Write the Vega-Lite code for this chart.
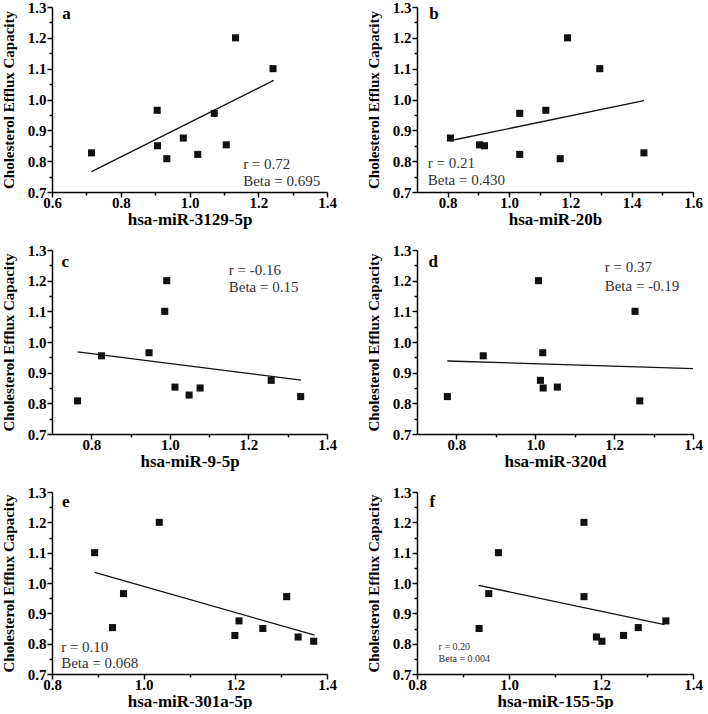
{
"$schema": "https://vega.github.io/schema/vega-lite/v6.json",
"padding": {"left": 1, "top": 0, "right": 0, "bottom": 0},
"background": "white",
"datasets": {
"points": [
{"panel":"a","expr":0.715,"cec":0.827},{"panel":"a","expr":0.906,"cec":0.965},{"panel":"a","expr":0.907,"cec":0.850},{"panel":"a","expr":0.934,"cec":0.808},{"panel":"a","expr":0.982,"cec":0.875},{"panel":"a","expr":1.024,"cec":0.822},{"panel":"a","expr":1.072,"cec":0.955},{"panel":"a","expr":1.107,"cec":0.853},{"panel":"a","expr":1.134,"cec":1.200},{"panel":"a","expr":1.243,"cec":1.100},
{"panel":"b","expr":0.809,"cec":0.875},{"panel":"b","expr":0.904,"cec":0.853},{"panel":"b","expr":0.920,"cec":0.850},{"panel":"b","expr":1.035,"cec":0.955},{"panel":"b","expr":1.035,"cec":0.822},{"panel":"b","expr":1.120,"cec":0.965},{"panel":"b","expr":1.167,"cec":0.808},{"panel":"b","expr":1.191,"cec":1.200},{"panel":"b","expr":1.296,"cec":1.100},{"panel":"b","expr":1.440,"cec":0.827},
{"panel":"c","expr":0.765,"cec":0.808},{"panel":"c","expr":0.826,"cec":0.955},{"panel":"c","expr":0.947,"cec":0.965},{"panel":"c","expr":0.987,"cec":1.100},{"panel":"c","expr":0.992,"cec":1.200},{"panel":"c","expr":1.013,"cec":0.853},{"panel":"c","expr":1.049,"cec":0.827},{"panel":"c","expr":1.077,"cec":0.850},{"panel":"c","expr":1.258,"cec":0.875},{"panel":"c","expr":1.333,"cec":0.822},
{"panel":"d","expr":0.777,"cec":0.822},{"panel":"d","expr":0.868,"cec":0.955},{"panel":"d","expr":1.008,"cec":1.200},{"panel":"d","expr":1.019,"cec":0.965},{"panel":"d","expr":1.013,"cec":0.875},{"panel":"d","expr":1.020,"cec":0.850},{"panel":"d","expr":1.056,"cec":0.853},{"panel":"d","expr":1.253,"cec":1.100},{"panel":"d","expr":1.265,"cec":0.808},
{"panel":"e","expr":0.893,"cec":1.100},{"panel":"e","expr":0.956,"cec":0.965},{"panel":"e","expr":0.932,"cec":0.853},{"panel":"e","expr":1.034,"cec":1.200},{"panel":"e","expr":1.199,"cec":0.827},{"panel":"e","expr":1.208,"cec":0.875},{"panel":"e","expr":1.260,"cec":0.850},{"panel":"e","expr":1.312,"cec":0.955},{"panel":"e","expr":1.337,"cec":0.822},{"panel":"e","expr":1.371,"cec":0.808},
{"panel":"f","expr":0.935,"cec":0.850},{"panel":"f","expr":0.956,"cec":0.965},{"panel":"f","expr":0.977,"cec":1.100},{"panel":"f","expr":1.163,"cec":1.200},{"panel":"f","expr":1.163,"cec":0.955},{"panel":"f","expr":1.190,"cec":0.822},{"panel":"f","expr":1.202,"cec":0.808},{"panel":"f","expr":1.249,"cec":0.827},{"panel":"f","expr":1.281,"cec":0.853},{"panel":"f","expr":1.341,"cec":0.875}
],
"lines": [
{"panel":"a","expr":0.715,"cec":0.766},{"panel":"a","expr":1.245,"cec":1.062},
{"panel":"b","expr":0.811,"cec":0.867},{"panel":"b","expr":1.440,"cec":0.996},
{"panel":"c","expr":0.765,"cec":0.968},{"panel":"c","expr":1.334,"cec":0.876},
{"panel":"d","expr":0.777,"cec":0.938},{"panel":"d","expr":1.400,"cec":0.913},
{"panel":"e","expr":0.893,"cec":1.035},{"panel":"e","expr":1.373,"cec":0.828},
{"panel":"f","expr":0.934,"cec":0.992},{"panel":"f","expr":1.338,"cec":0.863}
],
"notes": [
{"panel":"a","expr":1.156,"cec":0.791,"label":"r = 0.72"},{"panel":"a","expr":1.156,"cec":0.736,"label":"Beta = 0.695"},
{"panel":"b","expr":0.735,"cec":0.793,"label":"r = 0.21"},{"panel":"b","expr":0.735,"cec":0.739,"label":"Beta = 0.430"},
{"panel":"c","expr":1.150,"cec":1.235,"label":"r = -0.16"},{"panel":"c","expr":1.150,"cec":1.178,"label":"Beta = 0.15"},
{"panel":"d","expr":1.176,"cec":1.243,"label":"r = 0.37"},{"panel":"d","expr":1.176,"cec":1.183,"label":"Beta = -0.19"},
{"panel":"e","expr":0.820,"cec":0.790,"label":"r = 0.10"},{"panel":"e","expr":0.820,"cec":0.736,"label":"Beta = 0.068"},
{"panel":"f","expr":0.847,"cec":0.790,"label":"r = 0.20"},{"panel":"f","expr":0.847,"cec":0.750,"label":"Beta = 0.004"}
],
"letters": [
{"panel":"a","expr":0.630,"cec":1.278,"label":"a"},
{"panel":"b","expr":0.740,"cec":1.278,"label":"b"},
{"panel":"c","expr":0.724,"cec":1.260,"label":"c"},
{"panel":"d","expr":0.729,"cec":1.260,"label":"d"},
{"panel":"e","expr":0.822,"cec":1.267,"label":"e"},
{"panel":"f","expr":0.827,"cec":1.267,"label":"f"}
]
},
"spacing": 16,
"vconcat": [
{"hconcat": [
{"width": 275, "height": 185,
"encoding":{"x":{"field":"expr","type":"quantitative","scale":{"domain":[0.6,1.4],"nice":false,"zero":false},"axis":{"title":"hsa-miR-3129-5p","values":[0.6,0.7,0.8,0.9,1.0,1.1,1.2,1.3,1.4],"labelOverlap":false,"labelExpr":"round(datum.value*10)%2==0 ? format(datum.value,'.1f') : ''","tickSize":{"condition":{"test":"round(datum.value*10)%2==0","value":5},"value":3}}},
"y":{"field":"cec","type":"quantitative","scale":{"domain":[0.7,1.3],"nice":false,"zero":false},"axis":{"title":"Cholesterol Efflux Capacity","values":[0.7,0.75,0.8,0.85,0.9,0.95,1.0,1.05,1.1,1.15,1.2,1.25,1.3],"labelOverlap":false,"labelExpr":"round(datum.value*100)%10==0 ? format(datum.value,'.1f') : ''","tickSize":{"condition":{"test":"round(datum.value*100)%10==0","value":5},"value":3}}}},
"layer": [
{"data":{"name":"lines"},"transform":[{"filter":"datum.panel=='a'"}],"mark":{"type":"line","color":"#111","strokeWidth":1.3}},
{"data":{"name":"points"},"transform":[{"filter":"datum.panel=='a'"}],"mark":{"type":"point","shape":"square","filled":true,"size":50,"color":"#111","opacity":1}},
{"data":{"name":"notes"},"transform":[{"filter":"datum.panel=='a'"}],"mark":{"type":"text","align":"left","baseline":"middle","font":"Liberation Serif","fontSize":15,"color":"#333"},"encoding":{"text":{"field":"label"}}},
{"data":{"name":"letters"},"transform":[{"filter":"datum.panel=='a'"}],"mark":{"type":"text","align":"left","baseline":"middle","font":"Liberation Serif","fontSize":17,"fontWeight":"bold","color":"#000"},"encoding":{"text":{"field":"label"}}}
]},
{"width": 276, "height": 185,
"encoding":{"x":{"field":"expr","type":"quantitative","scale":{"domain":[0.7,1.6],"nice":false,"zero":false},"axis":{"title":"hsa-miR-20b","values":[0.8,0.9,1.0,1.1,1.2,1.3,1.4,1.5,1.6],"labelOverlap":false,"labelExpr":"round(datum.value*10)%2==0 ? format(datum.value,'.1f') : ''","tickSize":{"condition":{"test":"round(datum.value*10)%2==0","value":5},"value":3}}},
"y":{"field":"cec","type":"quantitative","scale":{"domain":[0.7,1.3],"nice":false,"zero":false},"axis":{"title":"Cholesterol Efflux Capacity","values":[0.7,0.75,0.8,0.85,0.9,0.95,1.0,1.05,1.1,1.15,1.2,1.25,1.3],"labelOverlap":false,"labelExpr":"round(datum.value*100)%10==0 ? format(datum.value,'.1f') : ''","tickSize":{"condition":{"test":"round(datum.value*100)%10==0","value":5},"value":3}}}},
"layer": [
{"data":{"name":"lines"},"transform":[{"filter":"datum.panel=='b'"}],"mark":{"type":"line","color":"#111","strokeWidth":1.3}},
{"data":{"name":"points"},"transform":[{"filter":"datum.panel=='b'"}],"mark":{"type":"point","shape":"square","filled":true,"size":50,"color":"#111","opacity":1}},
{"data":{"name":"notes"},"transform":[{"filter":"datum.panel=='b'"}],"mark":{"type":"text","align":"left","baseline":"middle","font":"Liberation Serif","fontSize":15,"color":"#333"},"encoding":{"text":{"field":"label"}}},
{"data":{"name":"letters"},"transform":[{"filter":"datum.panel=='b'"}],"mark":{"type":"text","align":"left","baseline":"middle","font":"Liberation Serif","fontSize":17,"fontWeight":"bold","color":"#000"},"encoding":{"text":{"field":"label"}}}
]}
]},
{"hconcat": [
{"width": 275, "height": 184,
"encoding":{"x":{"field":"expr","type":"quantitative","scale":{"domain":[0.7,1.4],"nice":false,"zero":false},"axis":{"title":"hsa-miR-9-5p","values":[0.8,0.9,1.0,1.1,1.2,1.3,1.4],"labelOverlap":false,"labelExpr":"round(datum.value*10)%2==0 ? format(datum.value,'.1f') : ''","tickSize":{"condition":{"test":"round(datum.value*10)%2==0","value":5},"value":3}}},
"y":{"field":"cec","type":"quantitative","scale":{"domain":[0.7,1.3],"nice":false,"zero":false},"axis":{"title":"Cholesterol Efflux Capacity","values":[0.7,0.75,0.8,0.85,0.9,0.95,1.0,1.05,1.1,1.15,1.2,1.25,1.3],"labelOverlap":false,"labelExpr":"round(datum.value*100)%10==0 ? format(datum.value,'.1f') : ''","tickSize":{"condition":{"test":"round(datum.value*100)%10==0","value":5},"value":3}}}},
"layer": [
{"data":{"name":"lines"},"transform":[{"filter":"datum.panel=='c'"}],"mark":{"type":"line","color":"#111","strokeWidth":1.3}},
{"data":{"name":"points"},"transform":[{"filter":"datum.panel=='c'"}],"mark":{"type":"point","shape":"square","filled":true,"size":50,"color":"#111","opacity":1}},
{"data":{"name":"notes"},"transform":[{"filter":"datum.panel=='c'"}],"mark":{"type":"text","align":"left","baseline":"middle","font":"Liberation Serif","fontSize":15,"color":"#333"},"encoding":{"text":{"field":"label"}}},
{"data":{"name":"letters"},"transform":[{"filter":"datum.panel=='c'"}],"mark":{"type":"text","align":"left","baseline":"middle","font":"Liberation Serif","fontSize":17,"fontWeight":"bold","color":"#000"},"encoding":{"text":{"field":"label"}}}
]},
{"width": 276, "height": 184,
"encoding":{"x":{"field":"expr","type":"quantitative","scale":{"domain":[0.7,1.4],"nice":false,"zero":false},"axis":{"title":"hsa-miR-320d","values":[0.8,0.9,1.0,1.1,1.2,1.3,1.4],"labelOverlap":false,"labelExpr":"round(datum.value*10)%2==0 ? format(datum.value,'.1f') : ''","tickSize":{"condition":{"test":"round(datum.value*10)%2==0","value":5},"value":3}}},
"y":{"field":"cec","type":"quantitative","scale":{"domain":[0.7,1.3],"nice":false,"zero":false},"axis":{"title":"Cholesterol Efflux Capacity","values":[0.7,0.75,0.8,0.85,0.9,0.95,1.0,1.05,1.1,1.15,1.2,1.25,1.3],"labelOverlap":false,"labelExpr":"round(datum.value*100)%10==0 ? format(datum.value,'.1f') : ''","tickSize":{"condition":{"test":"round(datum.value*100)%10==0","value":5},"value":3}}}},
"layer": [
{"data":{"name":"lines"},"transform":[{"filter":"datum.panel=='d'"}],"mark":{"type":"line","color":"#111","strokeWidth":1.3}},
{"data":{"name":"points"},"transform":[{"filter":"datum.panel=='d'"}],"mark":{"type":"point","shape":"square","filled":true,"size":50,"color":"#111","opacity":1}},
{"data":{"name":"notes"},"transform":[{"filter":"datum.panel=='d'"}],"mark":{"type":"text","align":"left","baseline":"middle","font":"Liberation Serif","fontSize":15,"color":"#333"},"encoding":{"text":{"field":"label"}}},
{"data":{"name":"letters"},"transform":[{"filter":"datum.panel=='d'"}],"mark":{"type":"text","align":"left","baseline":"middle","font":"Liberation Serif","fontSize":17,"fontWeight":"bold","color":"#000"},"encoding":{"text":{"field":"label"}}}
]}
]},
{"hconcat": [
{"width": 275, "height": 182,
"encoding":{"x":{"field":"expr","type":"quantitative","scale":{"domain":[0.8,1.4],"nice":false,"zero":false},"axis":{"title":"hsa-miR-301a-5p","values":[0.8,0.9,1.0,1.1,1.2,1.3,1.4],"labelOverlap":false,"labelExpr":"round(datum.value*10)%2==0 ? format(datum.value,'.1f') : ''","tickSize":{"condition":{"test":"round(datum.value*10)%2==0","value":5},"value":3}}},
"y":{"field":"cec","type":"quantitative","scale":{"domain":[0.7,1.3],"nice":false,"zero":false},"axis":{"title":"Cholesterol Efflux Capacity","values":[0.7,0.75,0.8,0.85,0.9,0.95,1.0,1.05,1.1,1.15,1.2,1.25,1.3],"labelOverlap":false,"labelExpr":"round(datum.value*100)%10==0 ? format(datum.value,'.1f') : ''","tickSize":{"condition":{"test":"round(datum.value*100)%10==0","value":5},"value":3}}}},
"layer": [
{"data":{"name":"lines"},"transform":[{"filter":"datum.panel=='e'"}],"mark":{"type":"line","color":"#111","strokeWidth":1.3}},
{"data":{"name":"points"},"transform":[{"filter":"datum.panel=='e'"}],"mark":{"type":"point","shape":"square","filled":true,"size":50,"color":"#111","opacity":1}},
{"data":{"name":"notes"},"transform":[{"filter":"datum.panel=='e'"}],"mark":{"type":"text","align":"left","baseline":"middle","font":"Liberation Serif","fontSize":15,"color":"#333"},"encoding":{"text":{"field":"label"}}},
{"data":{"name":"letters"},"transform":[{"filter":"datum.panel=='e'"}],"mark":{"type":"text","align":"left","baseline":"middle","font":"Liberation Serif","fontSize":17,"fontWeight":"bold","color":"#000"},"encoding":{"text":{"field":"label"}}}
]},
{"width": 276, "height": 182,
"encoding":{"x":{"field":"expr","type":"quantitative","scale":{"domain":[0.8,1.4],"nice":false,"zero":false},"axis":{"title":"hsa-miR-155-5p","values":[0.8,0.9,1.0,1.1,1.2,1.3,1.4],"labelOverlap":false,"labelExpr":"round(datum.value*10)%2==0 ? format(datum.value,'.1f') : ''","tickSize":{"condition":{"test":"round(datum.value*10)%2==0","value":5},"value":3}}},
"y":{"field":"cec","type":"quantitative","scale":{"domain":[0.7,1.3],"nice":false,"zero":false},"axis":{"title":"Cholesterol Efflux Capacity","values":[0.7,0.75,0.8,0.85,0.9,0.95,1.0,1.05,1.1,1.15,1.2,1.25,1.3],"labelOverlap":false,"labelExpr":"round(datum.value*100)%10==0 ? format(datum.value,'.1f') : ''","tickSize":{"condition":{"test":"round(datum.value*100)%10==0","value":5},"value":3}}}},
"layer": [
{"data":{"name":"lines"},"transform":[{"filter":"datum.panel=='f'"}],"mark":{"type":"line","color":"#111","strokeWidth":1.3}},
{"data":{"name":"points"},"transform":[{"filter":"datum.panel=='f'"}],"mark":{"type":"point","shape":"square","filled":true,"size":50,"color":"#111","opacity":1}},
{"data":{"name":"notes"},"transform":[{"filter":"datum.panel=='f'"}],"mark":{"type":"text","align":"left","baseline":"middle","font":"Liberation Serif","fontSize":10,"color":"#333"},"encoding":{"text":{"field":"label"}}},
{"data":{"name":"letters"},"transform":[{"filter":"datum.panel=='f'"}],"mark":{"type":"text","align":"left","baseline":"middle","font":"Liberation Serif","fontSize":17,"fontWeight":"bold","color":"#000"},"encoding":{"text":{"field":"label"}}}
]}
]}
],
"config": {
"view": {"stroke": null},
"concat": {"spacing": 29},
"axis": {"grid": false, "labelOverlap": false, "labelFlush": false, "labelBound": false, "domainColor": "#000", "domainWidth": 1.5, "tickColor": "#000", "tickWidth": 1.5, "labelFont": "Liberation Serif", "labelFontWeight": "bold", "labelFontSize": 15, "labelColor": "#000", "titleFont": "Liberation Serif", "titleFontWeight": "bold", "titleColor": "#000"},
"axisX": {"titleFontSize": 17, "titlePadding": 1, "labelPadding": -2},
"axisY": {"titleFontSize": 15, "titlePadding": 11, "labelPadding": 1}
}
}
